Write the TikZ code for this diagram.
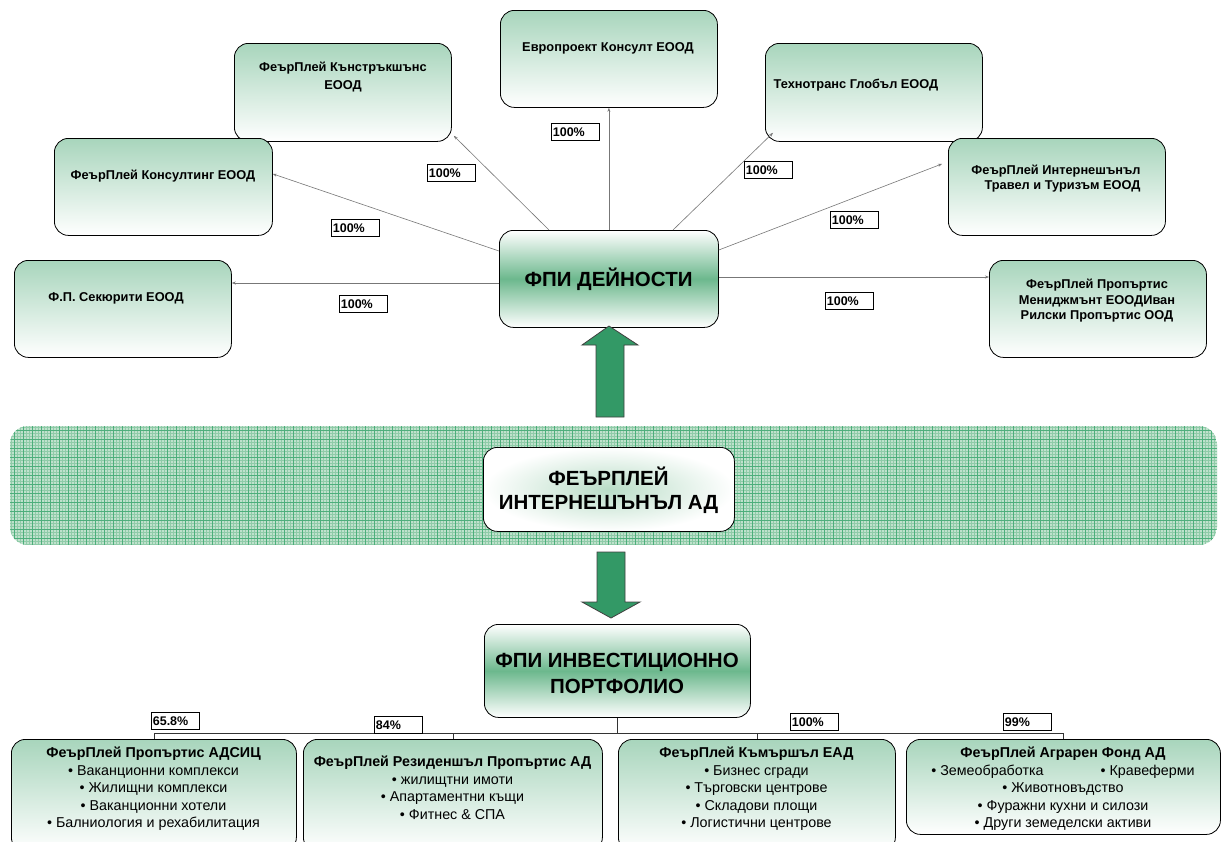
\documentclass[tikz,border=0pt]{standalone}
\usepackage{fontspec}
\setmainfont{Liberation Sans}
\usetikzlibrary{calc,arrows.meta}
\definecolor{mint}{HTML}{A8D5BC}
\definecolor{midg}{HTML}{6CB88D}
\definecolor{glow}{HTML}{B9DDC7}
\definecolor{arrg}{HTML}{339966}
\definecolor{bandf}{HTML}{BFE1CC}
\definecolor{bandm}{HTML}{8FCBA8}
\definecolor{bandl}{HTML}{4DAE7B}
\definecolor{connc}{HTML}{777777}
\tikzset{
  box/.style={draw=black, line width=0.8pt, rounded corners=14pt, top color=mint, bottom color=white, anchor=north west, inner sep=0pt},
  gbox/.style={draw=black, line width=0.8pt, rounded corners=14pt, top color=white, bottom color=white, middle color=midg, anchor=north west, inner sep=0pt},
  tt/.style={font=\fontsize{12.8}{15.5}\selectfont\bfseries, align=center, inner sep=0pt},
  big/.style={font=\fontsize{20.5}{26}\selectfont\bfseries, align=center, inner sep=0pt},
  pct/.style={draw=black, line width=0.7pt, fill=white, anchor=north west, minimum height=17pt, text width=45pt, inner xsep=1.5pt, inner ysep=0pt, align=left, font=\fontsize{12.5}{13}\selectfont\bfseries},
  btxt/.style={font=\fontsize{14.3}{17.5}\selectfont, align=center, inner sep=0pt, anchor=north},
  conn/.style={draw=connc, line width=0.6pt, -{Stealth[length=4pt,width=3pt]}},
  tree/.style={draw=black!80, line width=0.8pt},
  blk/.style={fill=arrg, draw=black!75, line width=0.8pt, line join=miter}
}
\begin{document}
\begin{tikzpicture}[x=1pt,y=-1pt]
\useasboundingbox (0,0) rectangle (1223,841);
\clip (0,0) rectangle (1223,841);
\fill[white] (0,0) rectangle (1223,841);

% band
\begin{scope}
\clip[rounded corners=18pt] (10,426) rectangle (1217,545);
\fill[bandf] (10,426) rectangle (1217,545);
\foreach \x in {11,14,...,1217} \draw[bandm, line width=0.5pt] (\x,426) -- (\x,545);
\foreach \y in {427,430,...,545} \draw[bandm, line width=0.5pt] (10,\y) -- (1217,\y);
\foreach \x in {14,23,...,1217} \draw[bandl, line width=1pt] (\x,426) -- (\x,545);
\foreach \y in {430,439,...,545} \draw[bandl, line width=1pt] (10,\y) -- (1217,\y);
\end{scope}

% top boxes
\node[box, minimum width=217pt, minimum height=97pt] (euro) at (500,10) {};
\node[box, minimum width=217pt, minimum height=98pt] (constr) at (234,43) {};
\node[box, minimum width=218pt, minimum height=97pt] (consult) at (54,138) {};
\node[box, minimum width=217pt, minimum height=97pt] (secur) at (14,260) {};
\node[box, minimum width=217pt, minimum height=98pt] (tech) at (765,43) {};
\node[box, minimum width=217pt, minimum height=97pt] (intl) at (948,138) {};
\node[box, minimum width=217pt, minimum height=97pt] (prop) at (989,260) {};
\node[gbox, minimum width=219pt, minimum height=97pt] (fpi) at (499,230) {};

\node[tt] (euro-t) at (608,48) {Европроект Консулт ЕООД};
\node[tt, font=\fontsize{12.8}{18}\selectfont\bfseries] (constr-t) at (343,77) {ФеърПлей Кънстръкшънс\\ЕООД};
\node[tt] (consult-t) at (163,176) {ФеърПлей Консултинг ЕООД};
\node[tt] (secur-t) at (116,298) {Ф.П. Секюрити ЕООД};
\node[tt] (tech-t) at (856,85) {Технотранс Глобъл ЕООД};
\node[tt, align=right] (intl-t) at (1056,178.5) {ФеърПлей Интернешънъл\\Травел и Туризъм ЕООД};
\node[tt] (prop-t) at (1097,301) {ФеърПлей Пропъртис\\Мениджмънт ЕООДИван\\Рилски Пропъртис ООД};
\node[big] (fpi-t) at (608.5,279) {ФПИ ДЕЙНОСТИ};

% connectors
\draw[conn] (fpi.north) -- (euro.south);
\draw[conn] ($(fpi.north west)+(50,0)$) -- ($(constr.south east)+(2,-6)$);
\draw[conn] ($(fpi.north west)+(0,21)$) -- ($(consult.east)+(0,-13)$);
\coordinate (se) at ($(secur.north east)+(0,23)$);
\draw[conn] (fpi.west |- se) -- (se);
\draw[conn] ($(fpi.north west)+(174,0)$) -- ($(tech.south west)+(8,-9)$);
\draw[conn] ($(fpi.north east)+(0,20)$) -- ($(intl.west)+(-6,-23)$);
\coordinate (pe) at ($(prop.north west)+(0,17)$);
\draw[conn] (fpi.east |- pe) -- (pe);

% percentages top
\node[pct] (p-euro) at (551,123) {100\%};
\node[pct] (p-constr) at (427,164) {100\%};
\node[pct] (p-consult) at (331,219) {100\%};
\node[pct] (p-secur) at (339,295) {100\%};
\node[pct] (p-tech) at (744,161) {100\%};
\node[pct] (p-intl) at (830,211) {100\%};
\node[pct] (p-prop) at (825,292) {100\%};

% block arrows
\draw[blk] (609,326) -- (638,345) -- (624,345) -- (624,417) -- (596,417) -- (596,345) -- (582,345) -- cycle;

% main box
\node[draw=black, line width=0.8pt, rounded corners=14pt, inner color=glow, outer color=white, anchor=north west, minimum width=251pt, minimum height=84pt, inner sep=0pt] (fpia) at (483,447) {};
\node[big, font=\fontsize{20.5}{24}\selectfont\bfseries] (fpia-t) at (608.5,490) {ФЕЪРПЛЕЙ\\ИНТЕРНЕШЪНЪЛ АД};

\draw[blk] (597,552) -- (625,552) -- (625,602) -- (640,602) -- (611,618) -- (582,602) -- (597,602) -- cycle;

\node[gbox, minimum width=266pt, minimum height=93pt] (port) at (484,624) {};
\node[big] (port-t) at (617,673) {ФПИ ИНВЕСТИЦИОННО\\ПОРТФОЛИО};

% bottom boxes
\node[box, minimum width=285pt, minimum height=112pt] (b1) at (11,739) {};
\node[box, minimum width=299pt, minimum height=112pt] (b2) at (303,739) {};
\node[box, minimum width=277pt, minimum height=112pt] (b3) at (618,739) {};
\node[box, minimum width=314pt, minimum height=95pt] (b4) at (906,739) {};

\draw[tree] (port.south) -- ($(port.south |- b1.north)+(0,-6)$);
\draw[tree] (b1.north) -- ++(0,-6) -- ($(b4.north)+(0,-6)$) -- (b4.north);
\draw[tree] (b2.north) -- ++(0,-6);
\draw[tree] (b3.north) -- ++(0,-6);

\node[pct] (p-b1) at (151,712) {65.8\%};
\node[pct] (p-b2) at (374,716) {84\%};
\node[pct] (p-b3) at (790,713) {100\%};
\node[pct] (p-b4) at (1003,713) {99\%};

\node[btxt] (b1-t) at (153.5,747) {\textbf{ФеърПлей Пропъртис АДСИЦ}\\• Ваканционни комплекси\\• Жилищни комплекси\\• Ваканционни хотели\\• Балниология и рехабилитация};
\node[btxt] (b2-t) at (452.5,756) {\textbf{ФеърПлей Резиденшъл Пропъртис АД}\\• жилищтни имоти\\• Апартаментни къщи\\• Фитнес \& СПА};
\node[btxt] (b3-t) at (756.5,747) {\textbf{ФеърПлей Къмършъл ЕАД}\\• Бизнес сгради\\• Търговски центрове\\• Складови площи\\• Логистични центрове};
\node[btxt] (b4-t) at (1063,747) {\textbf{ФеърПлей Аграрен Фонд АД}\\• Земеобработка\hspace{57pt}• Кравеферми\\• Животновъдство\\• Фуражни кухни и силози\\• Други земеделски активи};
\end{tikzpicture}
\end{document}
